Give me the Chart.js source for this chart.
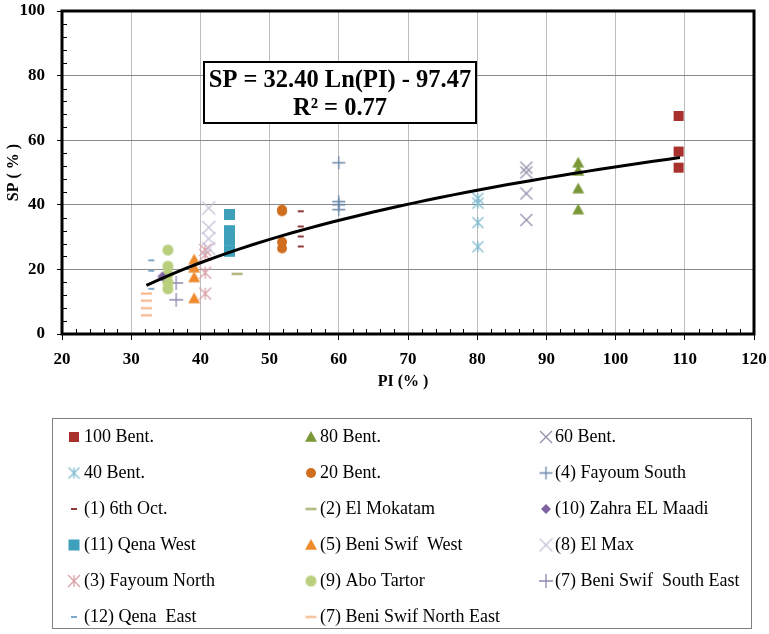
<!DOCTYPE html>
<html>
<head>
<meta charset="utf-8">
<script src="https://cdn.jsdelivr.net/npm/chart.js@4/dist/chart.umd.min.js"></script>
<style>
    html, body { margin: 0; padding: 0; background: #fff; }
    canvas { display: block; }
</style>
</head>
<body>
<canvas id="myChart" width="769" height="634"></canvas>
<script>
// Soil groups, plasticity index (PI %) and swell potential (SP %) readings
const seriesNames = [
    "100 Bent.", "80 Bent.", "60 Bent.",
    "40 Bent.", "20 Bent.", "(4) Fayoum South",
    "(1) 6th Oct.", "(2) El Mokatam", "(10) Zahra EL Maadi",
    "(11) Qena West", "(5) Beni Swif  West", "(8) El Max",
    "(3) Fayoum North", "(9) Abo Tartor", "(7) Beni Swif  South East",
    "(12) Qena  East", "(7) Beni Swif North East"
];
const seriesPI = [109.1, 94.6, 87.1, 80.1, 51.8, 60, 54.5, 45.3, 34.5, 44.2, 39.1, 41.2, 40.7, 35.3, 36.5, 32.9, 32.2];
const seriesSP = [
    [67.5, 56.5, 51.5],
    [53, 50.5, 45, 38.5],
    [51.5, 50, 43.5, 35.3],
    [42, 40.5, 34.5, 27],
    [38.5, 38, 28.5, 26.5],
    [53, 41, 40, 38.5],
    [38, 33.3, 30.2, 27.1],
    [18.6],
    [17.8],
    [37, 32, 29, 25.6],
    [23, 20.5, 17.5, 11],
    [39, 33, 29.5, 26.5],
    [26, 24.5, 19, 12.5],
    [26, 21, 18.5, 16, 14],
    [15.8, 10.6],
    [22.8, 19.6, 14],
    [12.5, 10.3, 8, 5.8]
];

// Log fit SP = a Ln(PI) + b, over the PI range of the samples
const fitA = 32.40;
const fitB = -97.47;
const fitR2 = 0.77;
const fitFrom = 32.2;
const fitTo = 109.3;

const xTicks = [20, 30, 40, 50, 60, 70, 80, 90, 100, 110, 120];
const yTicks = [0, 20, 40, 60, 80, 100];

// Marker look for each group: shape, colour, size
const markerStyles = [
    ["square", "#A8312D", 10],
    ["triangle", "#7A9838", 12],
    ["x", "#948EAA", 12],
    ["star", "#7FBCD0", 11],
    ["circle", "#CF6E1E", 10],
    ["plus", "#6A86A8", 13],
    ["dash", "#8E3A3A", 6],
    ["longdash", "#9EA35A", 11],
    ["diamond", "#8064A2", 10],
    ["square", "#3FA0BC", 11],
    ["triangle", "#EE8A2C", 12],
    ["x", "#C8C0D8", 13],
    ["star", "#D9A0A6", 12],
    ["circle", "#B9CF7E", 11],
    ["plus", "#9088B0", 14],
    ["dash", "#7FA7C8", 6],
    ["longdash", "#F4B183", 11]
];

const SERIF = '"Liberation Serif", "Times New Roman", serif';

function makeMarker(shape, color, size) {
    const c = document.createElement("canvas");
    c.width = c.height = size + 4;
    const g = c.getContext("2d");
    const m = c.width / 2;
    const r = size / 2;
    g.fillStyle = color;
    g.strokeStyle = color;
    g.lineWidth = 1.3;
    g.beginPath();
    if (shape === "square") {
        g.fillRect(m - r, m - r, size, size);
    } else if (shape === "triangle") {
        g.moveTo(m, m - r);
        g.lineTo(m + r, m + r * 0.8);
        g.lineTo(m - r, m + r * 0.8);
        g.closePath();
        g.fill();
    } else if (shape === "circle") {
        g.arc(m, m, r, 0, Math.PI * 2);
        g.fill();
    } else if (shape === "diamond") {
        g.moveTo(m, m - r);
        g.lineTo(m + r, m);
        g.lineTo(m, m + r);
        g.lineTo(m - r, m);
        g.closePath();
        g.fill();
    } else if (shape === "x" || shape === "star") {
        g.moveTo(m - r, m - r); g.lineTo(m + r, m + r);
        g.moveTo(m + r, m - r); g.lineTo(m - r, m + r);
        if (shape === "star") { g.moveTo(m, m - r); g.lineTo(m, m + r); }
        g.stroke();
    } else if (shape === "plus") {
        g.moveTo(m - r, m); g.lineTo(m + r, m);
        g.moveTo(m, m - r); g.lineTo(m, m + r);
        g.stroke();
    } else {
        // short and long dash markers
        g.lineWidth = 2;
        g.moveTo(m - r, m); g.lineTo(m + r, m);
        g.stroke();
    }
    return c;
}

const markers = markerStyles.map(s => makeMarker(s[0], s[1], s[2]));

// Build the fitted curve from the equation
const fitPoints = [];
for (let i = 0; i <= 40; i++) {
    const pi = fitFrom + (fitTo - fitFrom) * i / 40;
    fitPoints.push({ x: pi, y: fitA * Math.log(pi) + fitB });
}

const datasets = [{
    label: "fit",
    data: fitPoints,
    showLine: true,
    borderColor: "#000",
    borderWidth: 3,
    pointRadius: 0,
    order: 0
}];

seriesNames.forEach((name, i) => {
    datasets.push({
        label: name,
        data: seriesSP[i].map(v => ({ x: seriesPI[i], y: v })),
        pointStyle: markers[i],
        pointRadius: 5,
        order: 1
    });
});

const chartDecor = {
    id: "chartDecor",
    beforeDatasetsDraw(chart) {
        const { ctx, chartArea: a, scales: { x, y } } = chart;
        ctx.save();
        // minor tick marks on the inside of the axes
        ctx.strokeStyle = "#000";
        ctx.lineWidth = 1;
        ctx.beginPath();
        for (let v = 22; v < 120; v += 2) {
            if (v % 10 === 0) continue;
            const px = Math.round(x.getPixelForValue(v)) + 0.5;
            ctx.moveTo(px, a.bottom);
            ctx.lineTo(px, a.bottom - 5);
        }
        for (let v = 4; v < 100; v += 4) {
            if (v % 20 === 0) continue;
            const py = Math.round(y.getPixelForValue(v)) + 0.5;
            ctx.moveTo(a.left, py);
            ctx.lineTo(a.left + 5, py);
        }
        ctx.stroke();
        // heavy frame round the plot
        ctx.lineWidth = 3;
        ctx.strokeRect(a.left, a.top, a.right - a.left, a.bottom - a.top);
        ctx.restore();
    },
    afterDatasetsDraw(chart) {
        const ctx = chart.ctx;
        ctx.save();
        // equation box
        ctx.fillStyle = "#fff";
        ctx.fillRect(204, 62, 272, 61);
        ctx.strokeStyle = "#000";
        ctx.lineWidth = 2;
        ctx.strokeRect(204, 62, 272, 61);
        ctx.fillStyle = "#000";
        ctx.font = "bold 24.5px " + SERIF;
        ctx.textAlign = "center";
        ctx.textBaseline = "alphabetic";
        const sign = fitB < 0 ? " - " : " + ";
        ctx.fillText("SP = " + fitA.toFixed(2) + " Ln(PI)" + sign + Math.abs(fitB).toFixed(2), 340, 87);
        ctx.fillText("R\u00B2 = " + fitR2.toFixed(2), 340, 115);
        ctx.restore();
    },
    afterDraw(chart) {
        const { ctx, chartArea: a } = chart;
        ctx.save();
        ctx.fillStyle = "#000";
        ctx.font = "bold 16px " + SERIF;
        ctx.textAlign = "center";
        ctx.textBaseline = "middle";
        ctx.fillText("PI (% )", 403, 382);
        ctx.translate(14, (a.top + a.bottom) / 2);
        ctx.rotate(-Math.PI / 2);
        ctx.fillText("SP ( % )", 0, 0);
        ctx.restore();

        // legend, three columns
        ctx.save();
        ctx.strokeStyle = "#7f7f7f";
        ctx.lineWidth = 1;
        ctx.strokeRect(52.5, 418.5, 699, 210);
        ctx.font = "18px " + SERIF;
        ctx.fillStyle = "#000";
        ctx.textAlign = "left";
        ctx.textBaseline = "middle";
        const colMarker = [74, 311, 546];
        const colText = [84, 320, 555];
        seriesNames.forEach((name, i) => {
            const col = i % 3;
            const row = Math.floor(i / 3);
            const yy = 437 + row * 36;
            const mk = markers[i];
            ctx.drawImage(mk, colMarker[col] - mk.width / 2, yy - mk.height / 2);
            ctx.fillText(name, colText[col], yy);
        });
        ctx.restore();
    }
};

const ctx = document.getElementById("myChart").getContext("2d");

const myChart = new Chart(ctx, {
    type: "scatter",
    data: { datasets },
    options: {
        responsive: false,
        animation: false,
        events: [],
        layout: { autoPadding: false, padding: { top: 11, right: 15, bottom: 0, left: 0 } },
        plugins: {
            legend: { display: false },
            tooltip: { enabled: false }
        },
        scales: {
            x: {
                type: "linear",
                min: xTicks[0],
                max: xTicks[xTicks.length - 1],
                afterBuildTicks: scale => { scale.ticks = xTicks.map(v => ({ value: v })); },
                afterFit: scale => {
                    scale.height = 300;
                    scale.paddingLeft = 0;
                    scale.paddingRight = 0;
                },
                ticks: {
                    color: "#000",
                    padding: 9,
                    font: { family: SERIF, size: 17, weight: "bold" }
                },
                grid: {
                    color: c => (c.tick && (c.tick.value === 20 || c.tick.value === 120)) ? "rgba(0,0,0,0)" : "#bdbdbd",
                    tickColor: "#000",
                    tickLength: 6
                },
                border: { display: false }
            },
            y: {
                min: yTicks[0],
                max: yTicks[yTicks.length - 1],
                afterBuildTicks: scale => { scale.ticks = yTicks.map(v => ({ value: v })); },
                afterFit: scale => {
                    scale.width = 62;
                    scale.paddingTop = 0;
                    scale.paddingBottom = 0;
                },
                ticks: {
                    color: "#000",
                    padding: 12,
                    font: { family: SERIF, size: 17, weight: "bold" }
                },
                grid: {
                    color: c => (c.tick && (c.tick.value === 0 || c.tick.value === 100)) ? "rgba(0,0,0,0)" : "#8a8a8a",
                    tickColor: "#000",
                    tickLength: 5
                },
                border: { display: false }
            }
        }
    },
    plugins: [chartDecor]
});
</script>
</body>
</html>
